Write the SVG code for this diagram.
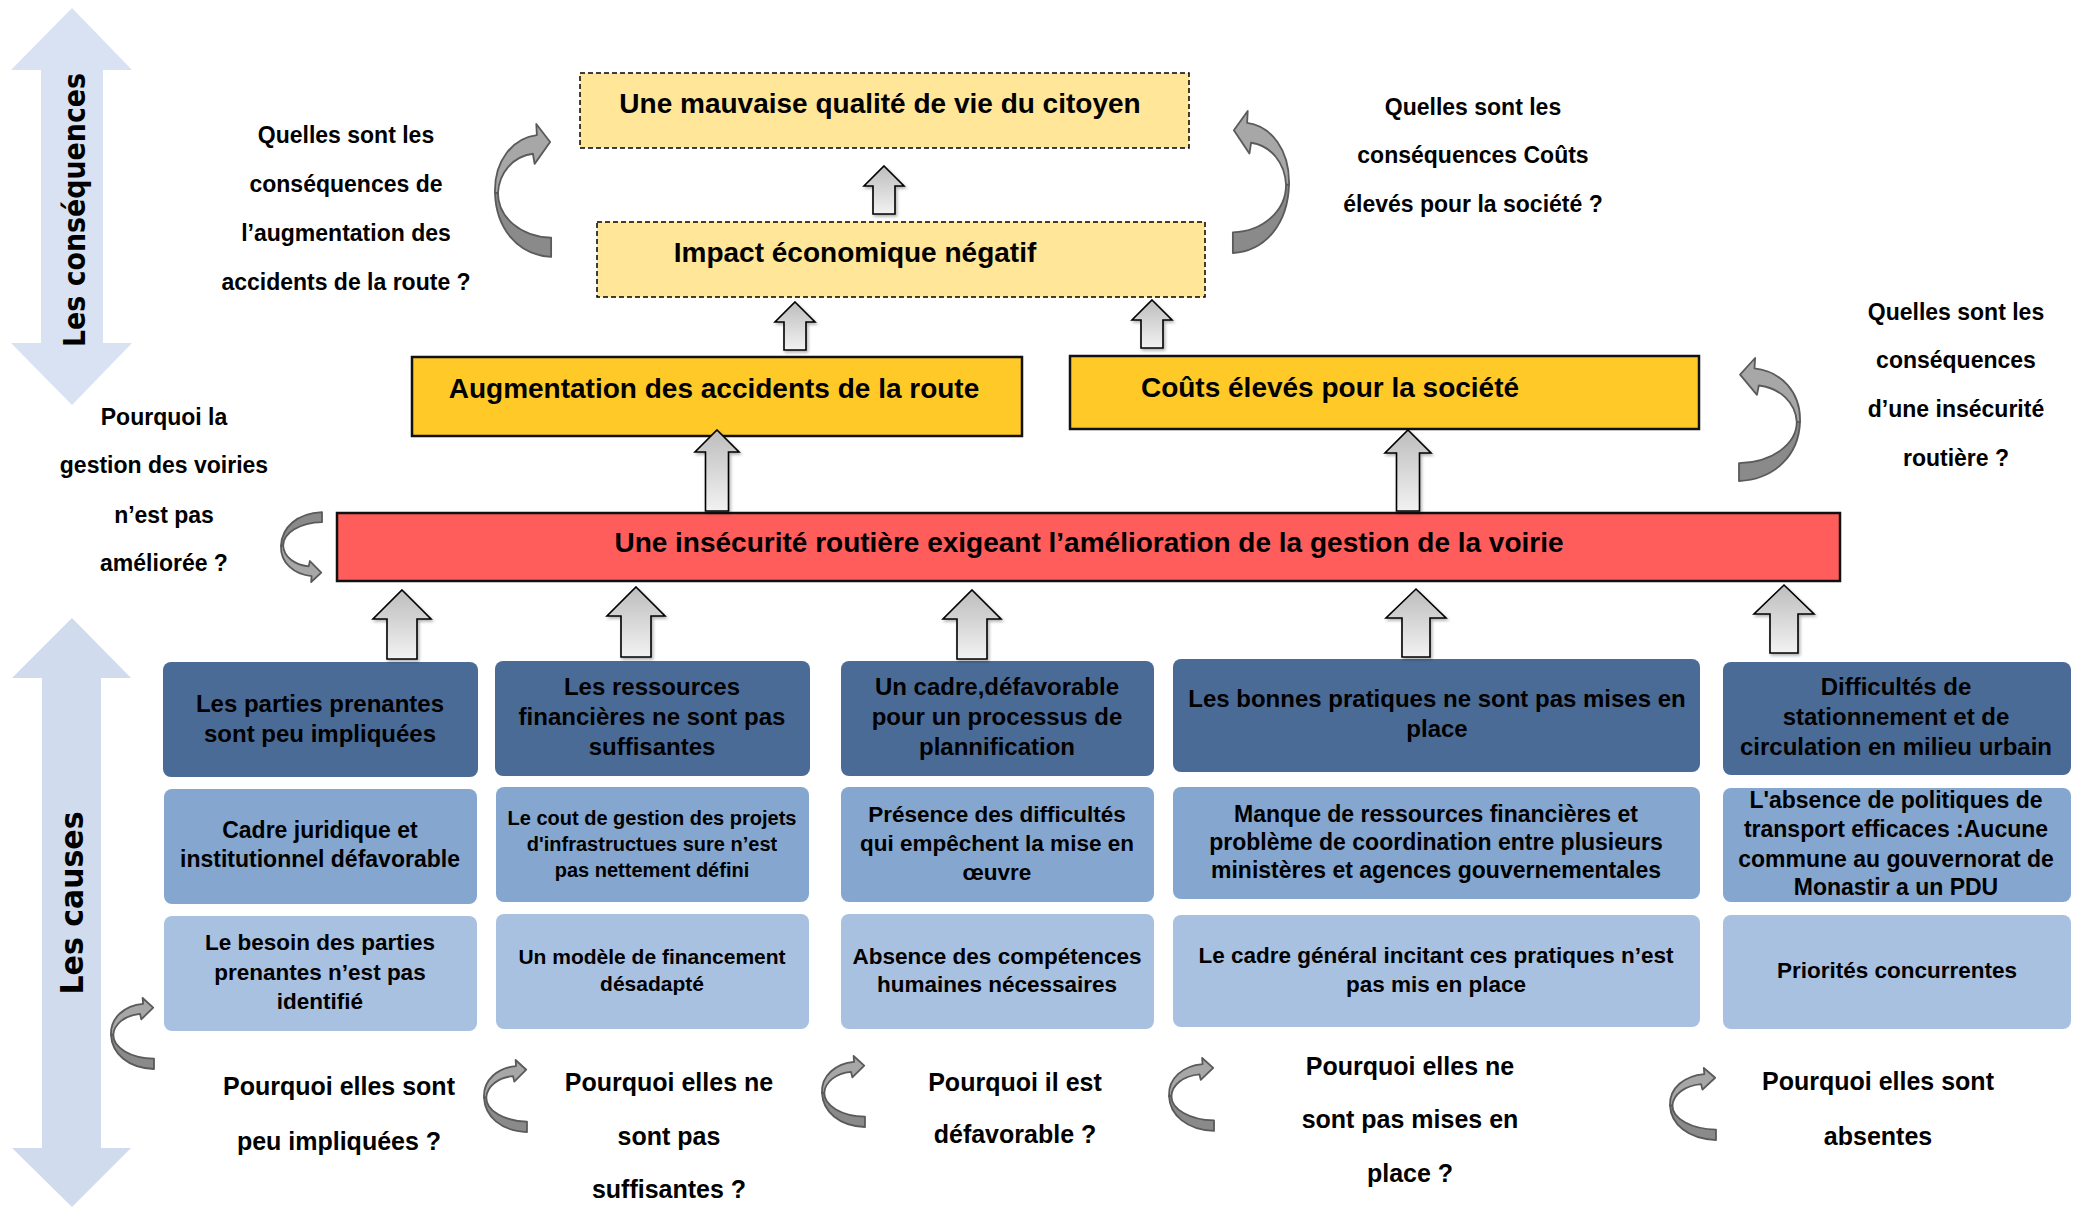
<svg xmlns="http://www.w3.org/2000/svg" xmlns:xlink="http://www.w3.org/1999/xlink" width="2080" height="1208" viewBox="0 0 2080 1208">
  <style>
    .t { font-family: "Liberation Sans", Arial, sans-serif; font-weight: bold; fill: #000; text-anchor: middle; }
    .axis { font-family: "DejaVu Sans", Verdana, sans-serif; font-weight: bold; fill: #000; text-anchor: middle; }
    .h28 { font-size: 28px; }
    .h24 { font-size: 24px; }
    .h23 { font-size: 23px; }
    .h22 { font-size: 22.5px; }
    .h20 { font-size: 20px; }
    .h21 { font-size: 21px; }
    .q23 { font-size: 23px; }
    .q25 { font-size: 25px; }
    .soft { fill: #FFE699; stroke: #000; stroke-width: 1.5; stroke-dasharray: 5 3; }
    .gold { fill: #FFCA28; stroke: #111; stroke-width: 2.5; }
    .red { fill: #FF5C5C; stroke: #111; stroke-width: 2.5; }
    .dark { fill: #4B6B97; }
    .mid { fill: #84A6CF; }
    .light { fill: #A8C1E0; }
    .up { fill: url(#upGrad); stroke: #000; stroke-width: 1.6; stroke-linejoin: miter; filter: url(#shadow); }
    .cu { fill: #A7A7A7; stroke: #5A5A5A; stroke-width: 1.8; vector-effect: non-scaling-stroke; stroke-linejoin: round; }
    .cl { fill: #8A8A8A; stroke: #5A5A5A; stroke-width: 1.8; vector-effect: non-scaling-stroke; stroke-linejoin: round; }
  </style>
  <defs>
    <linearGradient id="upGrad" x1="0" y1="0" x2="0" y2="1">
      <stop offset="0" stop-color="#BDBDBD"/>
      <stop offset="1" stop-color="#F2F2F2"/>
    </linearGradient>
    <filter id="shadow" x="-30%" y="-20%" width="160%" height="140%">
      <feDropShadow dx="1.5" dy="2" stdDeviation="1.5" flood-color="#000" flood-opacity="0.3"/>
    </filter>
    <!-- curled arrow, head top-right, tail bottom-right; local box 57 x 132 -->
    <g id="curl">
      <path class="cl" d="M0,68 C1,102 22,129 56.7,131 L56.7,112 C26,111 3,92 3,68 Z"/>
      <path class="cu" d="M0,68 C-1,36 18,14 42.3,11 L41.7,0 L55.7,17.7 L40,39.3 L38.3,29.3 C18,32 4,48 3,68 Z"/>
    </g>
  </defs>

  <rect width="2080" height="1208" fill="#fff"/>

  <!-- side axes -->
  <g id="axis-consequences">
    <path d="M72,8 L132,70 L103,70 L103,343 L132,343 L72,405 L11,343 L41,343 L41,70 L11,70 Z" fill="#D8E2F2"/>
    <text class="axis" font-size="30" textLength="274" lengthAdjust="spacingAndGlyphs" transform="translate(85,210) rotate(-90)">Les conséquences</text>
  </g>
  <g id="axis-causes">
    <path d="M72,618 L131,678 L101,678 L101,1148 L131,1148 L72,1207 L12,1148 L42,1148 L42,678 L12,678 Z" fill="#D0DCEE"/>
    <text class="axis" font-size="32" textLength="183" lengthAdjust="spacingAndGlyphs" transform="translate(83,903) rotate(-90)">Les causes</text>
  </g>

  <!-- consequences -->
  <g id="qualite-vie">
    <rect class="soft" x="580" y="73" width="609" height="75"/>
    <text class="t h28" x="880" y="113">Une mauvaise qualité de vie du citoyen</text>
  </g>
  <g id="impact-economique">
    <rect class="soft" x="597" y="222" width="608" height="75"/>
    <text class="t h28" x="855" y="262">Impact économique négatif</text>
  </g>
  <g id="accidents">
    <rect class="gold" x="412" y="357" width="610" height="79"/>
    <text class="t h28" x="714" y="398">Augmentation des accidents de la route</text>
  </g>
  <g id="couts">
    <rect class="gold" x="1070" y="356" width="629" height="73"/>
    <text class="t h28" x="1330" y="397">Coûts élevés pour la société</text>
  </g>

  <!-- central problem -->
  <g id="insecurite">
    <rect class="red" x="337" y="513" width="1503" height="68"/>
    <text class="t h28" x="1089" y="552">Une insécurité routière exigeant l’amélioration de la gestion de la voirie</text>
  </g>

  <!-- causes, row 1 -->
  <g id="cause-parties">
    <rect class="dark" x="163" y="662" width="315" height="115" rx="8"/>
    <text class="t h24" x="320" y="712">Les parties prenantes</text>
    <text class="t h24" x="320" y="742">sont peu impliquées</text>
  </g>
  <g id="cause-ressources">
    <rect class="dark" x="495" y="661" width="315" height="115" rx="8"/>
    <text class="t h24" x="652" y="695">Les ressources</text>
    <text class="t h24" x="652" y="725">financières ne sont pas</text>
    <text class="t h24" x="652" y="755">suffisantes</text>
  </g>
  <g id="cause-cadre">
    <rect class="dark" x="841" y="661" width="313" height="115" rx="8"/>
    <text class="t h24" x="997" y="695">Un cadre,défavorable</text>
    <text class="t h24" x="997" y="725">pour un processus de</text>
    <text class="t h24" x="997" y="755">plannification</text>
  </g>
  <g id="cause-pratiques">
    <rect class="dark" x="1173" y="659" width="527" height="113" rx="8"/>
    <text class="t h24" x="1437" y="707">Les bonnes pratiques ne sont pas mises en</text>
    <text class="t h24" x="1437" y="737">place</text>
  </g>
  <g id="cause-stationnement">
    <rect class="dark" x="1723" y="662" width="348" height="113" rx="8"/>
    <text class="t h24" x="1896" y="695">Difficultés de</text>
    <text class="t h24" x="1896" y="725">stationnement et de</text>
    <text class="t h24" x="1896" y="755">circulation en milieu urbain</text>
  </g>

  <!-- causes, row 2 -->
  <g id="cause-juridique">
    <rect class="mid" x="164" y="789" width="313" height="115" rx="8"/>
    <text class="t h23" x="320" y="838">Cadre juridique et</text>
    <text class="t h23" x="320" y="867">institutionnel défavorable</text>
  </g>
  <g id="cause-cout">
    <rect class="mid" x="496" y="787" width="313" height="115" rx="8"/>
    <text class="t h20" x="652" y="825">Le cout de gestion des projets</text>
    <text class="t h20" x="652" y="851">d'infrastructues sure n’est</text>
    <text class="t h20" x="652" y="877">pas nettement défini</text>
  </g>
  <g id="cause-difficultes">
    <rect class="mid" x="841" y="787" width="313" height="115" rx="8"/>
    <text class="t h22" x="997" y="822">Présence des difficultés</text>
    <text class="t h22" x="997" y="851">qui empêchent la mise en</text>
    <text class="t h22" x="997" y="880">œuvre</text>
  </g>
  <g id="cause-coordination">
    <rect class="mid" x="1173" y="787" width="527" height="112" rx="8"/>
    <text class="t h23" x="1436" y="822">Manque de ressources financières et</text>
    <text class="t h23" x="1436" y="850">problème de coordination entre plusieurs</text>
    <text class="t h23" x="1436" y="878">ministères et agences gouvernementales</text>
  </g>
  <g id="cause-politiques">
    <rect class="mid" x="1723" y="788" width="348" height="114" rx="8"/>
    <text class="t h23" x="1896" y="808">L'absence de politiques de</text>
    <text class="t h23" x="1896" y="837">transport efficaces :Aucune</text>
    <text class="t h23" x="1896" y="867">commune au gouvernorat de</text>
    <text class="t h23" x="1896" y="895">Monastir a un PDU</text>
  </g>

  <!-- causes, row 3 -->
  <g id="cause-besoin">
    <rect class="light" x="164" y="916" width="313" height="115" rx="8"/>
    <text class="t h22" x="320" y="950">Le besoin des parties</text>
    <text class="t h22" x="320" y="980">prenantes n’est pas</text>
    <text class="t h22" x="320" y="1009">identifié</text>
  </g>
  <g id="cause-financement">
    <rect class="light" x="496" y="914" width="313" height="115" rx="8"/>
    <text class="t h21" x="652" y="964">Un modèle de financement</text>
    <text class="t h21" x="652" y="991">désadapté</text>
  </g>
  <g id="cause-competences">
    <rect class="light" x="841" y="914" width="313" height="115" rx="8"/>
    <text class="t h22" x="997" y="964">Absence des compétences</text>
    <text class="t h22" x="997" y="992">humaines nécessaires</text>
  </g>
  <g id="cause-incitation">
    <rect class="light" x="1173" y="915" width="527" height="112" rx="8"/>
    <text class="t h22" x="1436" y="963">Le cadre général incitant ces pratiques n’est</text>
    <text class="t h22" x="1436" y="992">pas mis en place</text>
  </g>
  <g id="cause-priorites">
    <rect class="light" x="1723" y="915" width="348" height="114" rx="8"/>
    <text class="t h22" x="1897" y="978">Priorités concurrentes</text>
  </g>

  <!-- guiding questions -->
  <g id="q-accidents">
    <text class="t q23" x="346" y="143">Quelles sont les</text>
    <text class="t q23" x="346" y="192">conséquences de</text>
    <text class="t q23" x="346" y="241">l’augmentation des</text>
    <text class="t q23" x="346" y="290">accidents de la route ?</text>
  </g>
  <g id="q-couts">
    <text class="t q23" x="1473" y="115">Quelles sont les</text>
    <text class="t q23" x="1473" y="163">conséquences Coûts</text>
    <text class="t q23" x="1473" y="212">élevés pour la société ?</text>
  </g>
  <g id="q-insecurite">
    <text class="t q23" x="1956" y="320">Quelles sont les</text>
    <text class="t q23" x="1956" y="368">conséquences</text>
    <text class="t q23" x="1956" y="417">d’une insécurité</text>
    <text class="t q23" x="1956" y="466">routière ?</text>
  </g>
  <g id="q-gestion">
    <text class="t q23" x="164" y="425">Pourquoi la</text>
    <text class="t q23" x="164" y="473">gestion des voiries</text>
    <text class="t q23" x="164" y="523">n’est pas</text>
    <text class="t q23" x="164" y="571">améliorée ?</text>
  </g>
  <g id="q-parties">
    <text class="t q25" x="339" y="1095">Pourquoi elles sont</text>
    <text class="t q25" x="339" y="1150">peu impliquées ?</text>
  </g>
  <g id="q-ressources">
    <text class="t q25" x="669" y="1091">Pourquoi elles ne</text>
    <text class="t q25" x="669" y="1145">sont pas</text>
    <text class="t q25" x="669" y="1198">suffisantes ?</text>
  </g>
  <g id="q-cadre">
    <text class="t q25" x="1015" y="1091">Pourquoi il est</text>
    <text class="t q25" x="1015" y="1143">défavorable ?</text>
  </g>
  <g id="q-pratiques">
    <text class="t q25" x="1410" y="1075">Pourquoi elles ne</text>
    <text class="t q25" x="1410" y="1128">sont pas mises en</text>
    <text class="t q25" x="1410" y="1182">place ?</text>
  </g>
  <g id="q-stationnement">
    <text class="t q25" x="1878" y="1090">Pourquoi elles sont</text>
    <text class="t q25" x="1878" y="1145">absentes</text>
  </g>

  <!-- connectors -->
  <g id="connectors">
    <path class="up" d="M884,166 L904,186 L895,186 L895,214 L873,214 L873,186 L864,186 Z"/>
    <path class="up" d="M795,302 L815,322 L806,322 L806,350 L784,350 L784,322 L775,322 Z"/>
    <path class="up" d="M1152,300 L1172,320 L1163,320 L1163,348 L1141,348 L1141,320 L1132,320 Z"/>
    <path class="up" d="M717,430 L739,452 L728.5,452 L728.5,511 L705.5,511 L705.5,452 L695,452 Z"/>
    <path class="up" d="M1408,430 L1431,453 L1419.5,453 L1419.5,511 L1396.5,511 L1396.5,453 L1385,453 Z"/>
    <path class="up" d="M402,590 L431,619 L417,619 L417,659 L387,659 L387,619 L373,619 Z"/>
    <path class="up" d="M636,587 L665,616 L651,616 L651,657 L621,657 L621,616 L607,616 Z"/>
    <path class="up" d="M972,590 L1001,619 L987,619 L987,659 L957,659 L957,619 L943,619 Z"/>
    <path class="up" d="M1416,589 L1446,618 L1430,618 L1430,657 L1402,657 L1402,618 L1386,618 Z"/>
    <path class="up" d="M1784,585 L1814,614 L1798,614 L1798,653 L1770,653 L1770,614 L1754,614 Z"/>

    <use xlink:href="#curl" transform="translate(495,124) scale(0.99,1.015)"/>
    <use xlink:href="#curl" transform="translate(1289,111) scale(-0.99,1.084)"/>
    <use xlink:href="#curl" transform="translate(1800,358) scale(-1.076,0.939)"/>
    <use xlink:href="#curl" transform="translate(281,582) scale(0.723,-0.534)"/>
    <use xlink:href="#curl" transform="translate(111,998) scale(0.758,0.542)"/>
    <use xlink:href="#curl" transform="translate(484,1060) scale(0.758,0.55)"/>
    <use xlink:href="#curl" transform="translate(822,1056) scale(0.758,0.542)"/>
    <use xlink:href="#curl" transform="translate(1169,1058) scale(0.794,0.557)"/>
    <use xlink:href="#curl" transform="translate(1670,1068) scale(0.811,0.55)"/>
  </g>
</svg>
